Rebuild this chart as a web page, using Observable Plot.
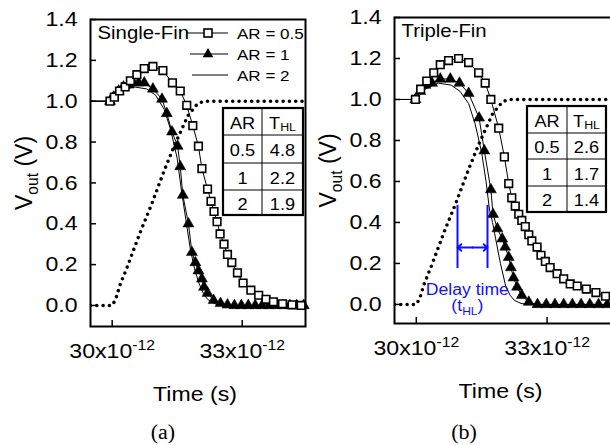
<!DOCTYPE html>
<html><head><meta charset="utf-8">
<script src="https://cdn.jsdelivr.net/npm/d3@7"></script>
<script src="https://cdn.jsdelivr.net/npm/@observablehq/plot@0.6"></script>
<style>
body{margin:0;background:#fff;overflow:hidden}
#wrap{position:relative;width:610px;height:445px;overflow:hidden;background:#fff}
#wrap svg{position:absolute;top:0}
</style></head><body><div id="wrap"></div>
<script>
// ---------- data (time in ps, voltage in V) ----------
const xTicks = [30, 33];
const yTicks = [0, 0.2, 0.4, 0.6, 0.8, 1.0, 1.2, 1.4];

// input ramp (dotted), shared by both panels
const inT = [29.5, 30.0, 30.08, 30.18, 30.35, 30.65, 30.9, 31.2, 31.45, 31.75, 31.98, 32.15, 34.5];
const inV = [0, 0, 0.03, 0.10, 0.19, 0.36, 0.49, 0.66, 0.79, 0.93, 0.99, 1.0, 1.0];

// (a) Single-Fin
const sqLT = [29.5, 29.95, 30.05, 30.17, 30.30, 30.42, 30.57, 30.74, 30.94, 31.17, 31.39, 31.57, 31.72, 31.86, 31.99, 32.07, 32.20, 32.28, 32.35, 32.42, 32.49, 32.58, 32.66, 32.76, 32.89, 33.02, 33.20, 33.38, 33.55, 33.72, 33.93, 34.15, 34.36];
const sqLV = [1.0, 1.00, 1.02, 1.05, 1.07, 1.10, 1.13, 1.16, 1.17, 1.15, 1.09, 1.05, 0.98, 0.88, 0.78, 0.67, 0.57, 0.51, 0.46, 0.41, 0.35, 0.30, 0.25, 0.21, 0.16, 0.11, 0.075, 0.05, 0.03, 0.018, 0.008, 0.003, 0.0];
const trLT = [29.5, 29.95, 30.03, 30.15, 30.26, 30.38, 30.49, 30.61, 30.74, 30.94, 31.15, 31.26, 31.38, 31.51, 31.57, 31.63, 31.76, 31.84, 31.92, 31.99, 32.07, 32.12, 32.20, 32.34, 32.50, 32.66, 32.82, 32.98, 33.14, 33.30, 33.46, 33.62, 33.78, 33.94, 34.10, 34.26, 34.42];
const trLV = [1.0, 1.0, 1.02, 1.05, 1.07, 1.08, 1.09, 1.09, 1.09, 1.06, 1.01, 0.94, 0.85, 0.78, 0.68, 0.54, 0.40, 0.26, 0.21, 0.17, 0.13, 0.09, 0.06, 0.025, 0.01, 0.003, 0, 0, 0, 0, 0, 0, 0, 0, 0, 0, 0];
const lnLT = [29.5, 30.0, 30.2, 30.5, 30.8, 31.0, 31.2, 31.35, 31.5, 31.6, 31.7, 31.8, 31.9, 32.0, 32.1, 32.2, 32.35, 32.5, 34.46];
const lnLV = [1.0, 1.0, 1.05, 1.07, 1.06, 1.03, 0.96, 0.86, 0.72, 0.56, 0.42, 0.28, 0.18, 0.11, 0.06, 0.03, 0.01, 0.0, 0.0];

// (b) Triple-Fin
const sqRT = [29.5, 29.98, 30.10, 30.24, 30.40, 30.55, 30.74, 30.97, 31.20, 31.43, 31.58, 31.71, 31.89, 32.02, 32.12, 32.19, 32.27, 32.35, 32.42, 32.50, 32.58, 32.65, 32.77, 32.86, 32.96, 33.07, 33.23, 33.38, 33.53, 33.69, 33.90, 34.12, 34.34];
const sqRV = [1.0, 1.00, 1.05, 1.09, 1.13, 1.17, 1.19, 1.20, 1.18, 1.13, 1.08, 1.00, 0.86, 0.72, 0.59, 0.52, 0.48, 0.44, 0.41, 0.38, 0.34, 0.31, 0.28, 0.24, 0.21, 0.18, 0.15, 0.125, 0.10, 0.09, 0.075, 0.058, 0.04];
const trRT = [29.5, 29.98, 30.09, 30.21, 30.36, 30.55, 30.78, 30.99, 31.20, 31.44, 31.56, 31.71, 31.76, 31.86, 31.97, 32.04, 32.12, 32.17, 32.23, 32.31, 32.42, 32.58, 32.78, 32.98, 33.18, 33.38, 33.58, 33.78, 33.98, 34.18, 34.38];
const trRV = [1.0, 1.0, 1.04, 1.07, 1.08, 1.10, 1.10, 1.08, 1.03, 0.91, 0.75, 0.56, 0.44, 0.37, 0.32, 0.28, 0.23, 0.18, 0.13, 0.085, 0.044, 0.011, 0, 0, 0, 0, 0, 0, 0, 0, 0];
const lnRT = [29.5, 30.0, 30.2, 30.5, 30.8, 31.0, 31.2, 31.35, 31.5, 31.6, 31.68, 31.75, 31.82, 31.93, 32.05, 32.15, 32.25, 32.4, 32.55, 34.5];
const lnRV = [1.0, 1.0, 1.05, 1.08, 1.07, 1.04, 0.98, 0.88, 0.74, 0.6, 0.46, 0.40, 0.32, 0.20, 0.09, 0.045, 0.02, 0.005, 0.0, 0.0];

// delay-time annotation (panel b)
const delayX = [30.945, 31.633];
const delayY = [0.175, 0.483];
const delayArrowY = 0.278;
const delayTextX = 31.17;
const delayTextY = [0.073, -0.005];

// tables
const tableAR = ["0.5", "1", "2"];
const thlL = ["4.8", "2.2", "1.9"];
const thlR = ["2.6", "1.7", "1.4"];
const legendLabels = ["AR = 0.5", "AR = 1", "AR = 2"];
const panelTitles = ["Single-Fin", "Triple-Fin"];
const panelTags = ["(a)", "(b)"];

// ---------- helpers ----------
const zip = (T, V) => T.map((t, i) => ({t, v: V[i]}));
const FONT = "'Liberation Sans', Arial, sans-serif";
const NS = "http://www.w3.org/2000/svg";
const H = 445;

function panel({title, xDomain, yDomain, marginTop, plotH, marginRight, sq, tr, ln, extra = []}) {
  const plotW = 310 - 90 - marginRight;
  return Plot.plot({
    width: 310, height: H,
    marginLeft: 90, marginRight, marginTop, marginBottom: H - marginTop - plotH,
    style: {fontFamily: FONT, background: "transparent", color: "black"},
    x: {domain: xDomain},
    y: {domain: yDomain},
    marks: [
      Plot.line(zip(inT, inV), {x: "t", y: "v", stroke: "black", strokeWidth: 3.6, strokeDasharray: "0 6.3", strokeLinecap: "round", clip: true}),
      Plot.line(ln, {x: "t", y: "v", stroke: "black", strokeWidth: 1, clip: true}),
      Plot.line(tr, {x: "t", y: "v", stroke: "black", strokeWidth: 1, clip: true}),
      Plot.dot(tr.slice(1), {x: "t", y: "v", symbol: "triangle", r: 4.1, fill: "black", stroke: "black", strokeWidth: 0.5}),
      Plot.line(sq, {x: "t", y: "v", stroke: "black", strokeWidth: 1, clip: true}),
      Plot.dot(sq.slice(1), {x: "t", y: "v", symbol: "square", r: 4.3, fill: "white", stroke: "black", strokeWidth: 1.6}),
      ...extra,
      // inward ticks
      Plot.tickX(xTicks, {x: d => d, insetTop: plotH - 6, stroke: "black", strokeWidth: 1.5}),
      Plot.tickY(yTicks, {y: d => d, insetRight: plotW - 6, stroke: "black", strokeWidth: 1.5}),
      Plot.frame({stroke: "black", strokeWidth: 2}),
      // tick labels
      Plot.axisX(xTicks, {tickSize: 0, tickPadding: 17, fontSize: 21, tickFormat: d => `${d}x10^{-12}`, label: null}),
      Plot.axisY(yTicks, {tickSize: 0, tickPadding: 13, fontSize: 21, tickFormat: d3.format(".1f"), label: null}),
      // axis titles
      Plot.text(["V_{out} (V)"], {frameAnchor: "left", rotate: -90, dx: -66, fontSize: 23, textAnchor: "middle", lineAnchor: "middle"}),
      Plot.text(["Time (s)"], {frameAnchor: "bottom", dx: -3, dy: 68, fontSize: 21, textAnchor: "middle", lineAnchor: "middle"}),
      Plot.text([title], {frameAnchor: "top-left", dx: 7, dy: 14, fontSize: 18.5, textAnchor: "start", lineAnchor: "middle"})
    ]
  });
}

const left = panel({
  title: panelTitles[0], xDomain: [29.5, 34.46], yDomain: [-0.103, 1.4], marginTop: 19, plotH: 307, marginRight: 5,
  sq: zip(sqLT, sqLV), tr: zip(trLT, trLV), ln: zip(lnLT, lnLV)
});

const midX = (delayX[0] + delayX[1]) / 2;
const right = panel({
  title: panelTitles[1], xDomain: [29.5, 34.5], yDomain: [-0.093, 1.4], marginTop: 17, plotH: 306, marginRight: 2,
  sq: zip(sqRT, sqRV), tr: zip(trRT, trRV), ln: zip(lnRT, lnRV),
  extra: [
    Plot.ruleX(delayX, {x: d => d, y1: delayY[0], y2: delayY[1], stroke: "#1010ff", strokeWidth: 2}),
    Plot.arrow(delayX, {x1: () => midX, x2: d => d, y1: () => delayArrowY, y2: () => delayArrowY, stroke: "#1010ff", strokeWidth: 2, headLength: 8, headAngle: 80}),
    Plot.text(["Delay time", "(t_{HL})"], {x: () => delayTextX, y: (d, i) => delayTextY[i], fill: "#1010ff", fontSize: 16, textAnchor: "middle", lineAnchor: "middle"})
  ]
});
left.style.left = "0px";
right.style.left = "304px";
const wrap = document.getElementById("wrap");
wrap.appendChild(left);
wrap.appendChild(right);

// ---------- overlay: legend, tables, panel tags ----------
const ov = document.createElementNS(NS, "svg");
ov.setAttribute("width", 610); ov.setAttribute("height", 445);
ov.style.left = "0px"; ov.style.fontFamily = FONT;
wrap.appendChild(ov);
function el(tag, attrs, text) {
  const e = document.createElementNS(NS, tag);
  for (const k in attrs) e.setAttribute(k, attrs[k]);
  if (text != null) e.textContent = text;
  ov.appendChild(e);
  return e;
}
// legend
const legY = [33, 54, 75];
el("line", {x1: 187, x2: 228, y1: legY[0], y2: legY[0], stroke: "black", "stroke-width": 1});
el("rect", {x: 204, y: legY[0] - 4, width: 8, height: 8, fill: "white", stroke: "black", "stroke-width": 1.6});
el("line", {x1: 190, x2: 228, y1: legY[1], y2: legY[1], stroke: "black", "stroke-width": 1});
el("path", {d: `M208,${legY[1] - 6}L213.3,${legY[1] + 3.3}L202.7,${legY[1] + 3.3}Z`, fill: "black"});
el("line", {x1: 192, x2: 228, y1: legY[2], y2: legY[2], stroke: "black", "stroke-width": 1});
legendLabels.forEach((s, i) => el("text", {x: 237, y: legY[i], "font-size": 15.5, "dominant-baseline": "central"}, s));

// tables
function table(x0, x1, xd, ys, vals) {
  el("rect", {x: x0, y: ys[0], width: x1 - x0, height: ys[4] - ys[0], fill: "white", stroke: "black", "stroke-width": 2.2});
  el("line", {x1: xd, x2: xd, y1: ys[0], y2: ys[4], stroke: "black", "stroke-width": 1});
  for (let i = 1; i < 4; i++) el("line", {x1: x0, x2: x1, y1: ys[i], y2: ys[i], stroke: "black", "stroke-width": 1});
  const cx0 = (x0 + xd) / 2, cx1 = (xd + x1) / 2;
  const rows = [["AR", "T_{HL}"], ...tableAR.map((a, i) => [a, vals[i]])];
  rows.forEach((r, i) => {
    const cy = (ys[i] + ys[i + 1]) / 2 + 1;
    el("text", {x: cx0, y: cy, "font-size": 16.5, "text-anchor": "middle", "dominant-baseline": "central"}, r[0]);
    el("text", {x: cx1, y: cy, "font-size": 16.5, "text-anchor": "middle", "dominant-baseline": "central"}, r[1]);
  });
}
table(223, 303, 262, [108, 135, 163, 190, 215], thlL);
table(527, 606, 567, [106, 133, 159, 186, 212], thlR);

// panel tags
const serif = "'Liberation Serif', 'Times New Roman', serif";
el("text", {x: 163, y: 432, "font-size": 20, "text-anchor": "middle", "dominant-baseline": "central", "font-family": serif}, panelTags[0]);
el("text", {x: 464, y: 432, "font-size": 20, "text-anchor": "middle", "dominant-baseline": "central", "font-family": serif}, panelTags[1]);

// ---------- rich text (sub/superscripts) and horizontal stretch ----------
function rich(t) {
  const s = t.textContent;
  if (!/[_^]\{/.test(s)) return;
  const fs = parseFloat(getComputedStyle(t).fontSize) || 16;
  t.textContent = "";
  let cur = 0, last = 0, m;
  const re = /([_^])\{([^}]*)\}/g;
  const add = (str, off, small) => {
    const sp = document.createElementNS(NS, "tspan");
    sp.textContent = str;
    const d = off - cur;
    if (d) sp.setAttribute("dy", d);
    if (small) sp.setAttribute("font-size", small);
    cur = off;
    t.appendChild(sp);
  };
  while ((m = re.exec(s))) {
    if (m.index > last) add(s.slice(last, m.index), 0, null);
    add(m[2], m[1] === "^" ? -0.42 * fs : 0.28 * fs, 0.68 * fs);
    last = re.lastIndex;
  }
  if (last < s.length) add(s.slice(last), 0, null);
}
const STRETCH = 1.1;
wrap.querySelectorAll("svg text").forEach(t => {
  rich(t);
  const tr = t.getAttribute("transform") || "";
  if (/rotate/.test(tr)) return;
  const L = t.getComputedTextLength();
  if (L > 0) {
    t.setAttribute("textLength", (L * STRETCH).toFixed(2));
    t.setAttribute("lengthAdjust", "spacingAndGlyphs");
  }
});
</script></body></html>
